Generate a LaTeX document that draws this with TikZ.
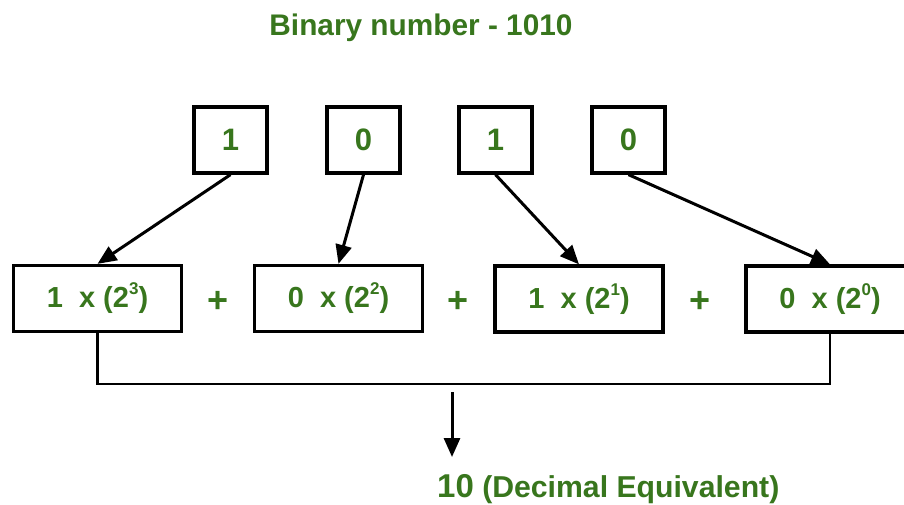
\documentclass[tikz,border=0pt]{standalone}
\usepackage{fontspec}
\setmainfont{Liberation Sans}
\usetikzlibrary{arrows.meta}
\definecolor{dgreen}{HTML}{38761D}
\newcommand{\supx}[1]{\raisebox{0.45em}{\fontsize{17}{20}\selectfont #1}}
\tikzset{
  bitbox/.style={draw=black, line width=3.3pt, minimum width=73pt, minimum height=66pt, inner sep=0pt,
    text=dgreen, font=\fontsize{31}{36}\selectfont\bfseries},
  termbox/.style={draw=black, line width=3.3pt, minimum width=168pt, minimum height=66pt, inner sep=0pt,
    text=dgreen, font=\fontsize{29}{34}\selectfont\bfseries},
  plus/.style={text=dgreen, font=\fontsize{36}{40}\selectfont\bfseries, inner sep=0pt},
  conn/.style={draw=black, line width=3pt, -{Triangle[length=19pt,width=16pt]}},
  bracket/.style={draw=black, line width=2.6pt},
}
\begin{document}
\begin{tikzpicture}[x=1pt,y=-1pt]
\useasboundingbox (0,0) rectangle (904,504);
\clip (0,0) rectangle (904,504);
\fill[white] (0,0) rectangle (904,504);
\node[text=dgreen, font=\fontsize{29.8}{34}\selectfont\bfseries, anchor=base, inner sep=0pt] (title) at (421,35) {Binary number - 1010};
\node[bitbox] (t1) at (230.5,140) {1};
\node[bitbox] (t2) at (363.5,140) {0};
\node[bitbox] (t3) at (495.5,140) {1};
\node[bitbox] (t4) at (628.5,140) {0};
\node[termbox] (a) at (97.5,298.5) {1\ \ x (2\supx{3})};
\node[termbox] (b) at (338.5,298.5) {0\ \ x (2\supx{2})};
\node[termbox] (c) at (579,299) {1\ \ x (2\supx{1})};
\node[termbox] (d) at (830,299) {0\ \ x (2\supx{0})};
\node[plus] (p1) at (218,302) {+};
\node[plus] (p2) at (458,302) {+};
\node[plus] (p3) at (700,302) {+};
\draw[conn] (t1.south) -- (a.north);
\draw[conn] (t2.south) -- (b.north);
\draw[conn] (t3.south) -- (c.north);
\draw[conn] (t4.south) -- (d.north);
\coordinate (corner) at (97.5,384);
\draw[bracket] (a.south) -- (corner) -| (d.south);
\coordinate (dstart) at (452,392);
\coordinate (dend) at (452,457);
\draw[conn] (dstart) -- (dend);
\node[text=dgreen, anchor=base west, inner sep=0pt] (res) at (437,497)
  {{\fontsize{33}{38}\selectfont\bfseries 10}{\fontsize{30.2}{35}\selectfont\bfseries\ (Decimal Equivalent)}};
\end{tikzpicture}
\end{document}
